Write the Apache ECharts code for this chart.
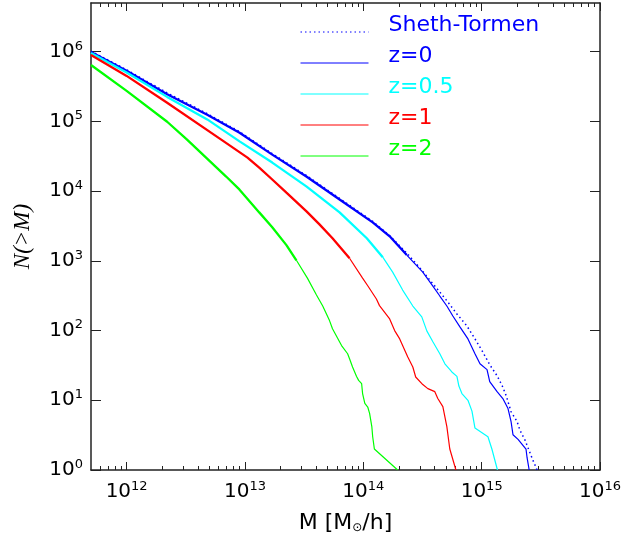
<!DOCTYPE html>
<html>
<head>
    <meta charset="utf-8" />
    <title>N(>M)</title>
    <style>
        html, body { margin: 0; padding: 0; background: #fff; }
        #massFn { width: 624px; height: 539px; }
    </style>
</head>
<body>
    <div id="massFn"></div>
    <script src="https://cdn.jsdelivr.net/npm/echarts@6/dist/echarts.min.js"></script>
    <script>
        // M [Msun/h] 与累计数 N(>M)
        const stM = [5e11, 1e12, 2.2e12, 4.8e12, 9e12, 1.7e13, 3.3e13, 6.3e13, 1.2e14, 1.67e14, 2.37e14, 3.12e14, 3.65e14, 4.43e14, 5.18e14, 6.18e14, 7.49e14, 8.78e14, 1.01e15, 1.17e15, 1.35e15, 1.49e15, 1.61e15, 1.77e15, 1.99e15, 2.11e15, 2.33e15, 2.67e15, 2.94e15];
        const stN = [1.02e6, 5.5e5, 2.57e5, 1.29e5, 7.13e4, 3.46e4, 1.68e4, 7.87e3, 3.69e3, 2.3e3, 1.25e3, 736, 530, 357, 257, 173, 117, 76, 51, 32.4, 22.5, 16.2, 11.7, 6.9, 4.96, 3.7, 2.66, 1.47, 1];

        const z0M = [5e11, 1e12, 2.2e12, 4.8e12, 9e12, 1.7e13, 3.3e13, 6.3e13, 1.2e14, 1.67e14, 2.33e14, 3.18e14, 3.87e14, 4.43e14, 5.08e14, 5.71e14, 6.55e14, 7.66e14, 8.78e14, 9.68e14, 1.11e15, 1.17e15, 1.35e15, 1.51e15, 1.67e15, 1.77e15, 1.84e15, 2.03e15, 2.37e15, 2.42e15, 2.52e15];
        const z0N = [9.9e5, 5.35e5, 2.45e5, 1.25e5, 6.9e4, 3.34e4, 1.62e4, 7.6e3, 3.57e3, 2.25e3, 1.21e3, 690, 435, 313, 225, 162, 113, 76, 46.5, 33.4, 27.5, 18.5, 13.3, 10.6, 7.6, 5, 3.2, 2.75, 2, 1.5, 1];

        const z05M = [5e11, 1e12, 2.2e12, 4.8e12, 9e12, 1.7e13, 3.3e13, 6.3e13, 1.07e14, 1.46e14, 1.77e14, 2.15e14, 2.62e14, 3.12e14, 3.44e14, 3.87e14, 4.43e14, 4.89e14, 5.6e14, 6.18e14, 6.42e14, 6.81e14, 7.66e14, 8.28e14, 8.78e14, 1.13e15, 1.22e15, 1.36e15];
        const z05N = [9.58e5, 5.05e5, 2.25e5, 1.07e5, 5.18e4, 2.57e4, 1.17e4, 4.96e3, 2.11e3, 1.13e3, 690, 381, 225, 157, 99, 69, 46.5, 33.4, 25.5, 22, 16, 12.5, 10, 7, 4, 3, 2, 1];

        const z1M = [5e11, 1e12, 2.2e12, 6.3e12, 1.05e13, 1.32e13, 1.7e13, 2.24e13, 3.31e13, 4.26e13, 5.49e13, 7.65e13, 9.86e13, 1.09e14, 1.29e14, 1.37e14, 1.67e14, 1.84e14, 2.03e14, 2.37e14, 2.62e14, 2.77e14, 3.18e14, 3.51e14, 4.02e14, 4.26e14, 4.7e14, 5.08e14, 5.38e14, 6.06e14];
        const z1N = [8.97e5, 4.5e5, 1.85e5, 5.48e4, 3.03e4, 2.18e4, 1.47e4, 9.5e3, 5.13e3, 3.34e3, 2.11e3, 1.09e3, 566, 440, 284, 228, 147, 100, 76, 42, 30, 21.6, 16.8, 14.7, 13.3, 10.6, 8.1, 4.2, 2, 1];

        const z2M = [5e11, 1e12, 2.2e12, 3.24e12, 6.93e12, 8.96e12, 1.32e13, 1.7e13, 2.24e13, 2.72e13, 3.37e13, 4.02e13, 4.54e13, 5.18e13, 5.49e13, 6.55e13, 7.37e13, 7.65e13, 8.11e13, 8.77e13, 9.13e13, 9.68e13, 9.86e13, 1.03e14, 1.09e14, 1.13e14, 1.18e14, 1.2e14, 1.24e14, 1.95e14];
        const z2N = [6.45e5, 2.75e5, 9.9e4, 5.48e4, 1.62e4, 1.06e4, 4.96e3, 3.03e3, 1.68e3, 1.02e3, 566, 324, 225, 139, 106, 61, 46.5, 39.4, 30, 22, 19.3, 17.3, 12.5, 9, 8, 6.5, 4.2, 3, 2, 1];

        // 坐标轴刻度（10 的幂）
        const xTickExp = [12, 13, 14, 15, 16];
        const yTickExp = [0, 1, 2, 3, 4, 5, 6];
        const xRange = [5e11, 1e16];
        const yRange = [1, 5e6];

        const FONT = 'DejaVu Sans';
        const AXIS_COLOR = '#222';
        const THICK_ABOVE = 1000; // 高计数段线条较粗

        // 对数坐标：以 log10 值画在数值轴上
        const toLog = function (ms, ns) {
            return ms.map(function (m, i) { return [Math.log10(m), Math.log10(ns[i])]; });
        };
        const xLo = Math.log10(xRange[0]), xHi = Math.log10(xRange[1]);
        const yLo = Math.log10(yRange[0]), yHi = Math.log10(yRange[1]);

        // 次刻度 2..9 x 10^n
        let xMinor = [];
        for (let e = Math.floor(xLo); e < xHi; e++) {
            for (let k = 2; k <= 9; k++) {
                const v = Math.log10(k) + e;
                if (v > xLo && v < xHi) xMinor.push(v);
            }
        }

        const powLabel = function (v) { return '{b|10}{s|' + Math.round(v) + '}'; };
        const powRich = {
            b: { fontFamily: FONT, fontSize: 20, color: '#000', lineHeight: 24 },
            s: { fontFamily: FONT, fontSize: 13, color: '#000', lineHeight: 17, verticalAlign: 'top' }
        };

        const xAxisBase = function (pos, ticks, len, withLine, withLabel) {
            return {
                type: 'value', gridIndex: 0, position: pos, min: xLo, max: xHi,
                axisLine: { show: withLine, onZero: false, lineStyle: { color: AXIS_COLOR, width: 1.5 } },
                axisTick: { show: true, inside: true, length: len, customValues: ticks, lineStyle: { color: AXIS_COLOR, width: 1 } },
                axisLabel: withLabel ? { show: true, customValues: ticks, formatter: powLabel, rich: powRich, margin: 10 } : { show: false },
                splitLine: { show: false }
            };
        };

        // 每条曲线分成粗/细两段（同名，共用一个图例项）
        const curveSeries = function (name, color, ms, ns) {
            const pts = toLog(ms, ns);
            let k = ns.findIndex(function (n) { return n < THICK_ABOVE; });
            if (k < 1) k = pts.length;
            return [
                { name: name, type: 'line', symbol: 'none', data: pts.slice(0, k),
                  lineStyle: { color: color, width: 2.3 }, itemStyle: { color: color } },
                { name: name, type: 'line', symbol: 'none', data: pts.slice(k - 1),
                  lineStyle: { color: color, width: 1.2 }, itemStyle: { color: color } }
            ];
        };

        const legendItem = function (name, color) {
            return { name: name, textStyle: { color: color } };
        };

        const massFn = echarts.init(document.getElementById('massFn'));
        const massFnOpt = {
            backgroundColor: '#fff',
            animation: false,
            grid: { left: 91, right: 23, top: 3, bottom: 67 },
            legend: {
                orient: 'vertical', left: 300, top: 14, padding: 0, itemGap: -5,
                itemWidth: 68, itemHeight: 14, selectedMode: false,
                itemStyle: { opacity: 0 },
                lineStyle: { width: 1 },
                formatter: function (name) { return '{a|' + name + '}'; },
                textStyle: {
                    fontFamily: FONT, fontSize: 22,
                    rich: { a: { fontFamily: FONT, fontSize: 22, lineHeight: 16, padding: [0, 0, 14, 15] } }
                },
                data: [
                    legendItem('Sheth-Tormen', '#0000ff'),
                    legendItem('z=0', '#0000ff'),
                    legendItem('z=0.5', '#00ffff'),
                    legendItem('z=1', '#ff0000'),
                    legendItem('z=2', '#00ff00')
                ]
            },
            xAxis: [
                Object.assign(xAxisBase('bottom', xTickExp, 8, true, true), {
                    name: '{t|M [M}{o|⊙}{t|/h]}', nameLocation: 'middle', nameGap: 42,
                    nameTextStyle: {
                        rich: {
                            t: { fontFamily: FONT, fontSize: 22, color: '#000' },
                            o: { fontFamily: FONT, fontSize: 12, color: '#000', padding: [9, 0, 0, 0] }
                        }
                    }
                }),
                xAxisBase('bottom', xMinor, 4, false, false),
                xAxisBase('top', xTickExp, 8, true, false),
                xAxisBase('top', xMinor, 4, false, false)
            ],
            yAxis: [
                {
                    type: 'value', position: 'left', min: yLo, max: yHi,
                    axisLine: { show: true, onZero: false, lineStyle: { color: AXIS_COLOR, width: 1.5 } },
                    axisTick: { show: true, inside: true, length: 10, customValues: yTickExp, lineStyle: { color: AXIS_COLOR, width: 1 } },
                    axisLabel: { show: true, customValues: yTickExp, formatter: powLabel, rich: powRich, margin: 8 },
                    splitLine: { show: false },
                    name: 'N(>M)', nameLocation: 'middle', nameGap: 57,
                    nameTextStyle: { fontFamily: 'Liberation Serif', fontStyle: 'italic', fontSize: 23, color: '#000' }
                },
                {
                    type: 'value', position: 'right', min: yLo, max: yHi,
                    axisLine: { show: true, onZero: false, lineStyle: { color: AXIS_COLOR, width: 1.5 } },
                    axisTick: { show: true, inside: true, length: 10, customValues: yTickExp, lineStyle: { color: AXIS_COLOR, width: 1 } },
                    axisLabel: { show: false },
                    splitLine: { show: false }
                }
            ],
            series: [
                {
                    name: 'Sheth-Tormen', type: 'line', symbol: 'none', data: toLog(stM, stN),
                    lineStyle: { color: '#0000ff', width: 1.5, type: [1.5, 3] }, itemStyle: { color: '#0000ff' }
                }
            ].concat(
                curveSeries('z=0', '#0000ff', z0M, z0N),
                curveSeries('z=0.5', '#00ffff', z05M, z05N),
                curveSeries('z=1', '#ff0000', z1M, z1N),
                curveSeries('z=2', '#00ff00', z2M, z2N)
            )
        };
        massFn.setOption(massFnOpt);
    </script>
</body>
</html>
